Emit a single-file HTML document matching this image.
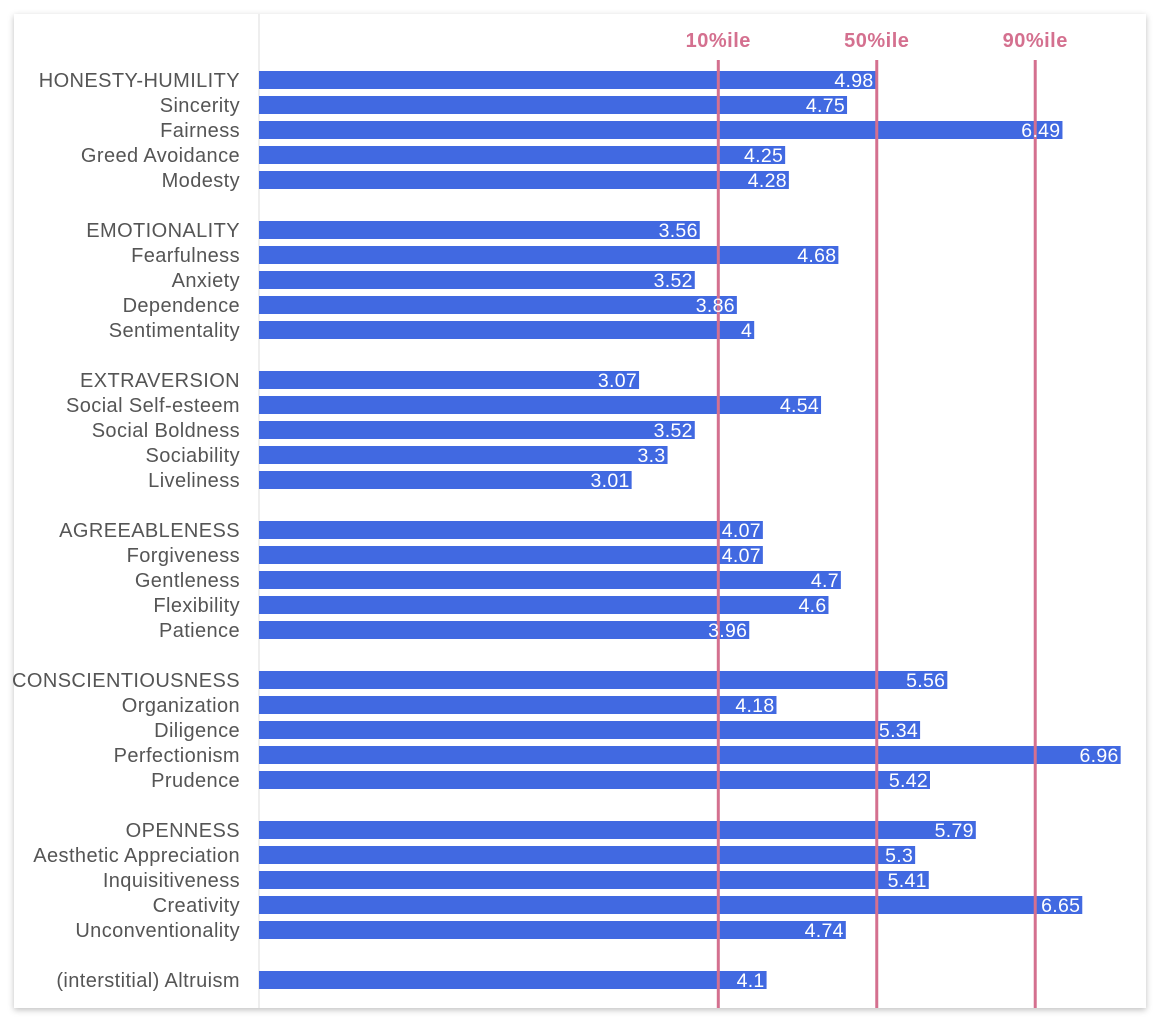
<!DOCTYPE html>
<html><head><meta charset="utf-8"><style>
body{margin:0;background:#fff;width:1161px;height:1024px;overflow:hidden;font-family:"Liberation Sans",sans-serif}
#card{position:absolute;left:14px;top:14px;width:1132px;height:994px;background:#fff;box-shadow:0 2px 6px rgba(0,0,0,0.25)}
</style></head><body>
<div id="card"></div>
<svg id="chart" width="1161" height="1024" style="position:absolute;left:0;top:0"></svg>
<script>
const categories=["HONESTY-HUMILITY","Sincerity","Fairness","Greed Avoidance","Modesty",null,
"EMOTIONALITY","Fearfulness","Anxiety","Dependence","Sentimentality",null,
"EXTRAVERSION","Social Self-esteem","Social Boldness","Sociability","Liveliness",null,
"AGREEABLENESS","Forgiveness","Gentleness","Flexibility","Patience",null,
"CONSCIENTIOUSNESS","Organization","Diligence","Perfectionism","Prudence",null,
"OPENNESS","Aesthetic Appreciation","Inquisitiveness","Creativity","Unconventionality",null,
"(interstitial) Altruism"];
const values=[4.98,4.75,6.49,4.25,4.28,null,3.56,4.68,3.52,3.86,4,null,3.07,4.54,3.52,3.3,3.01,null,4.07,4.07,4.7,4.6,3.96,null,5.56,4.18,5.34,6.96,5.42,null,5.79,5.3,5.41,6.65,4.74,null,4.1];
const percentileLabels=["10%ile","50%ile","90%ile"];
const percentileValues=[3.71,4.99,6.27];
const NS="http://www.w3.org/2000/svg";
const svg=document.getElementById("chart");
const x=v=>259+v*123.8;
const y=i=>80+i*25;
function mk(t,a){const e=document.createElementNS(NS,t);for(const k in a)e.setAttribute(k,a[k]);svg.appendChild(e);return e;}
const ax=mk("line",{x1:259,x2:259,y1:14,y2:1008,stroke:"#ddd","stroke-width":1});


categories.forEach((c,i)=>{
 if(c===null)return;
 const lb=mk("text",{x:240,y:y(i)+7,"text-anchor":"end","font-size":20,"letter-spacing":0.4,fill:"#555"});
 lb.textContent=c;
 
 
 const b=mk("rect",{x:259,y:y(i)-9,width:x(values[i])-259,height:18,fill:"#4169e1"});
 
 
});
percentileValues.forEach((p,j)=>{
 const l=mk("line",{x1:x(p),x2:x(p),y1:60,y2:1008,stroke:"#d4708f","stroke-width":3});
 
 
 const t=mk("text",{x:x(p),y:47,"text-anchor":"middle","font-size":20,"letter-spacing":0.5,"font-weight":"bold",fill:"#d4708f"});
 t.textContent=percentileLabels[j];
 
 
});
categories.forEach((c,i)=>{
 if(c===null)return;
 const t=mk("text",{x:x(values[i])-2,y:y(i)+7,"text-anchor":"end","font-size":19.5,"letter-spacing":0.3,fill:"#fff"});
 t.textContent=String(values[i]);
 
 
});
</script>
</body></html>
